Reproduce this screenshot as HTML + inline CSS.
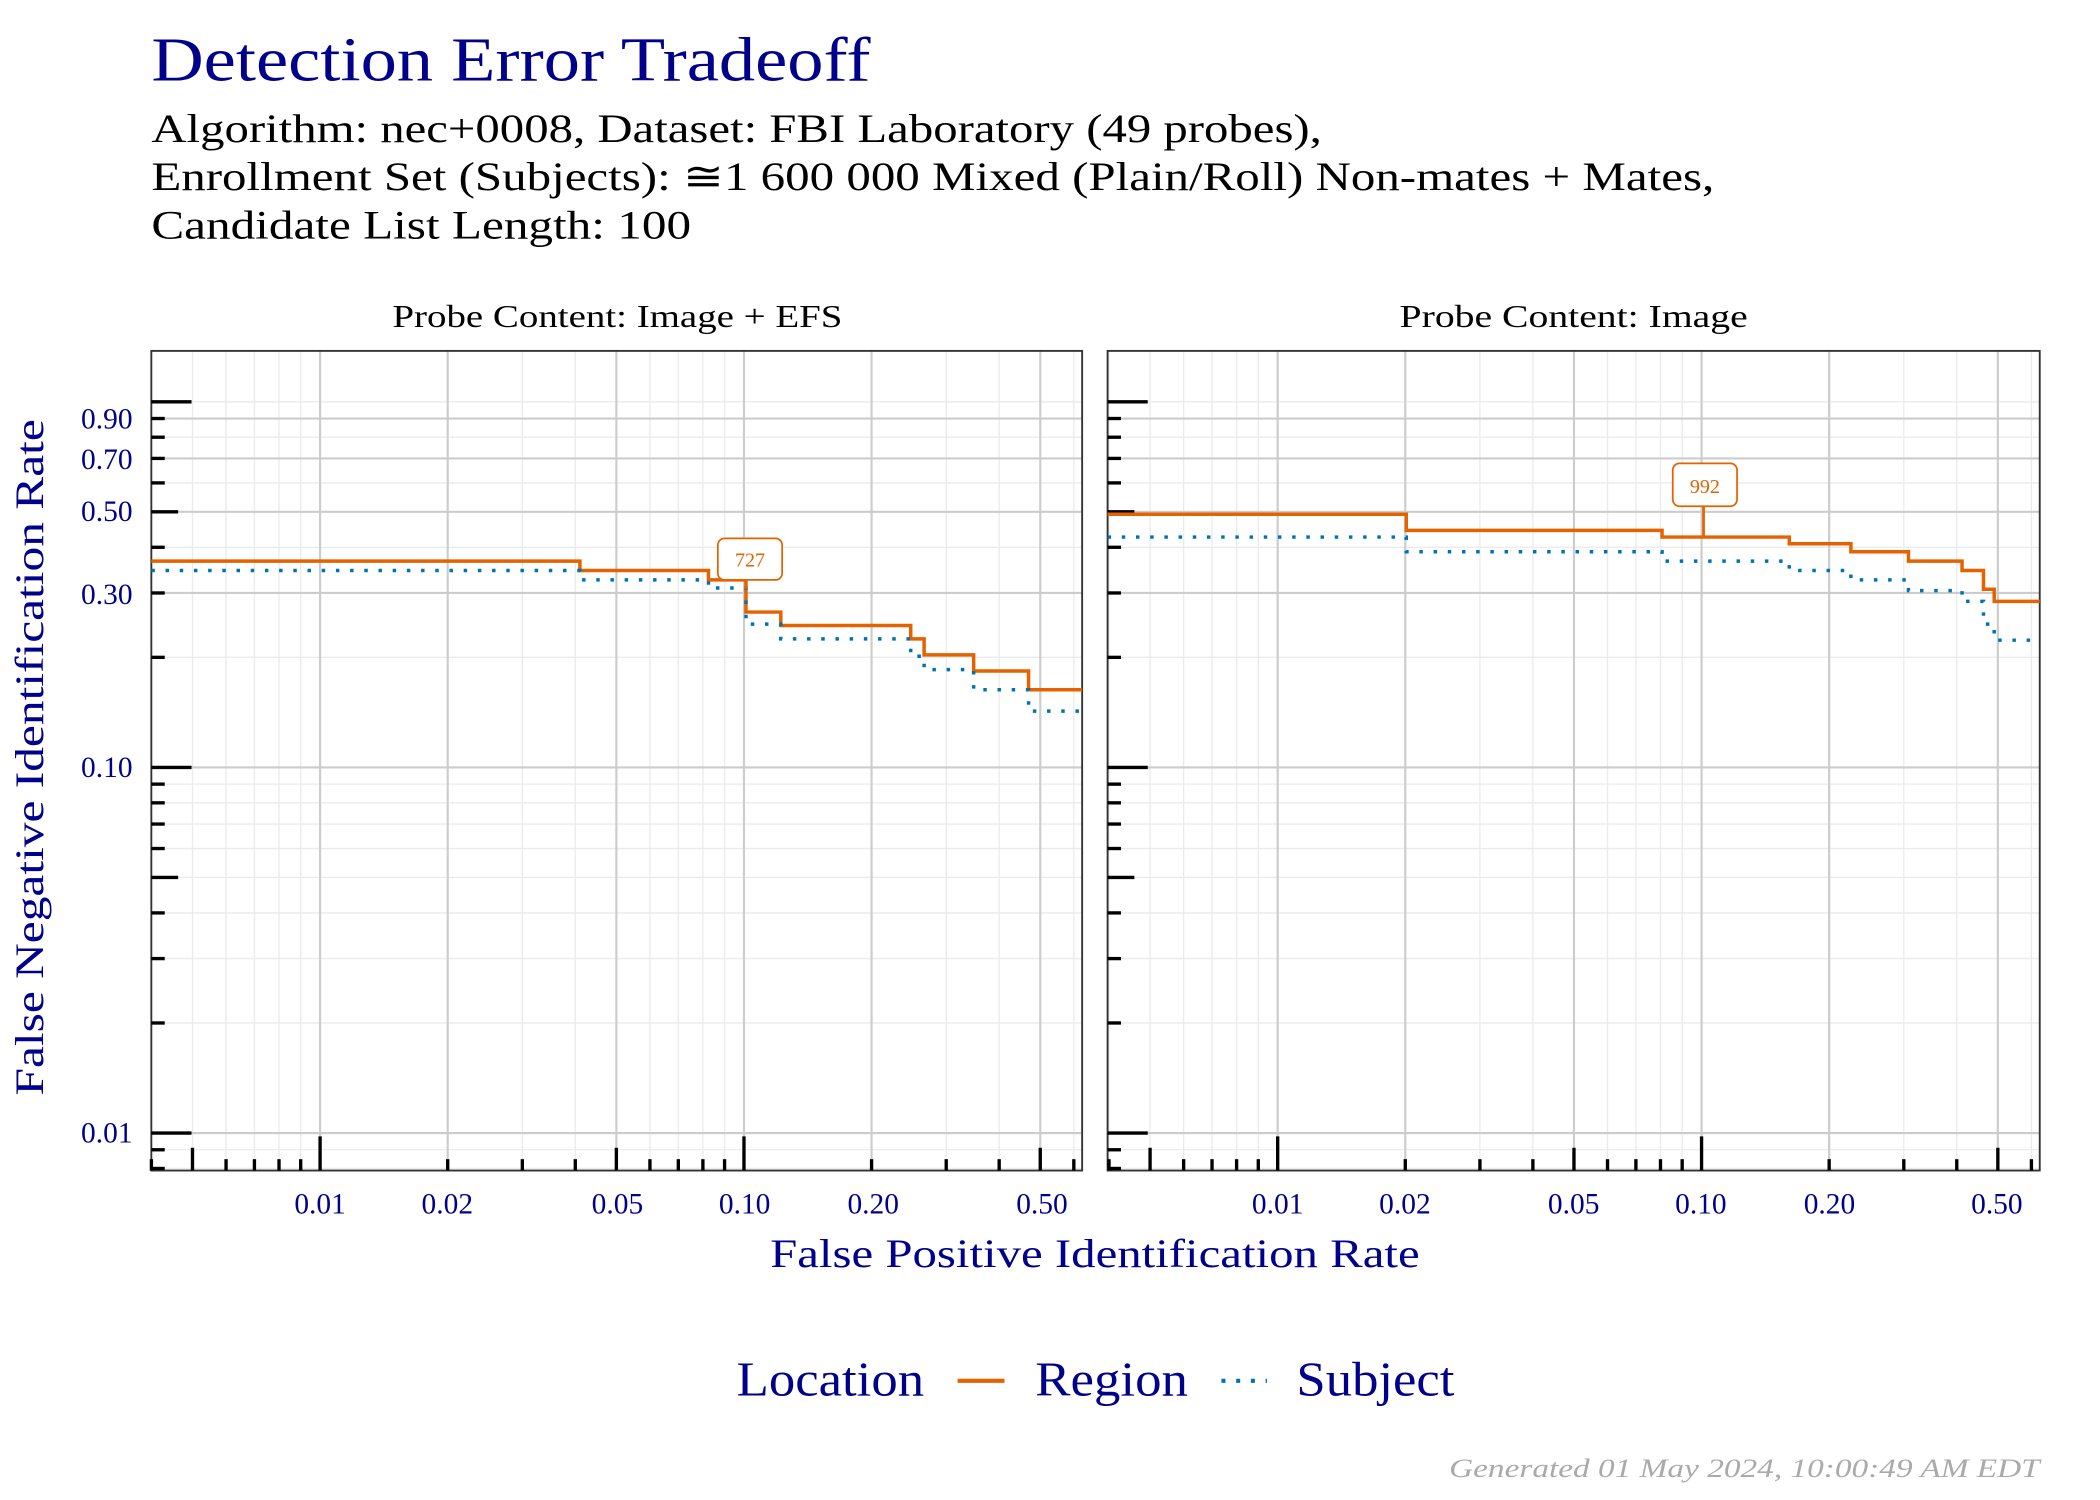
<!DOCTYPE html>
<html><head><meta charset="utf-8"><style>
html,body{margin:0;padding:0;background:#fff;}
svg{display:block;}
text{font-family:"Liberation Serif",serif;}
</style></head><body>
<svg id="s" width="2100" height="1500" viewBox="0 0 1568 1120" xmlns="http://www.w3.org/2000/svg">
<rect width="1568" height="1120" fill="#fff"/>
<g id="grid"></g>
<g fill="#00008B">
<text x="113" y="60" font-size="47" textLength="537" lengthAdjust="spacingAndGlyphs">Detection Error Tradeoff</text>
<text x="113" y="106" font-size="30" fill="#000" textLength="874" lengthAdjust="spacingAndGlyphs">Algorithm: nec+0008, Dataset: FBI Laboratory (49 probes),</text>
<text x="113" y="142" font-size="30" fill="#000" textLength="1167" lengthAdjust="spacingAndGlyphs">Enrollment Set (Subjects): ≅1 600 000 Mixed (Plain/Roll) Non-mates + Mates,</text>
<text x="113" y="178" font-size="30" fill="#000" textLength="403" lengthAdjust="spacingAndGlyphs">Candidate List Length: 100</text>
</g>
<text x="293" y="244" font-size="24" textLength="336" lengthAdjust="spacingAndGlyphs">Probe Content: Image + EFS</text>
<text x="1045" y="244" font-size="24" textLength="260" lengthAdjust="spacingAndGlyphs">Probe Content: Image</text>
<g font-size="22" fill="#00008B" text-anchor="end">
<text x="99" y="320">0.90</text><text x="99" y="350">0.70</text><text x="99" y="389">0.50</text>
<text x="99" y="451">0.30</text><text x="99" y="580">0.10</text><text x="99" y="853">0.01</text>
</g>
<g font-size="22" fill="#00008B" text-anchor="middle">
<text x="239" y="906">0.01</text><text x="334" y="906">0.02</text><text x="461" y="906">0.05</text><text x="556" y="906">0.10</text><text x="652" y="906">0.20</text><text x="778" y="906">0.50</text>
<text x="954" y="906">0.01</text><text x="1049" y="906">0.02</text><text x="1175" y="906">0.05</text><text x="1270" y="906">0.10</text><text x="1366" y="906">0.20</text><text x="1491" y="906">0.50</text>
</g>
<text x="575" y="946" font-size="30" fill="#00008B" textLength="485" lengthAdjust="spacingAndGlyphs">False Positive Identification Rate</text>
<text transform="translate(32,818) rotate(-90)" font-size="30" fill="#00008B" textLength="505" lengthAdjust="spacingAndGlyphs">False Negative Identification Rate</text>
<g id="data"></g>
<g>
<rect x="536" y="402" width="48" height="31" rx="5" fill="#fff" stroke="#E66100" stroke-width="1.3"/>
<text x="560" y="423" font-size="15" fill="#E66100" text-anchor="middle">727</text>
<rect x="1249" y="346" width="48" height="32" rx="5" fill="#fff" stroke="#E66100" stroke-width="1.3"/>
<text x="1273" y="368" font-size="15" fill="#E66100" text-anchor="middle">992</text>
</g>
<text x="550" y="1042" font-size="36" fill="#00008B" textLength="140" lengthAdjust="spacingAndGlyphs">Location</text>
<line x1="715" y1="1031" x2="750" y2="1031" stroke="#E66100" stroke-width="3"/>
<text x="773" y="1042" font-size="36" fill="#00008B" textLength="114" lengthAdjust="spacingAndGlyphs">Region</text>
<line x1="912" y1="1031" x2="946" y2="1031" stroke="#0072B2" stroke-width="3" stroke-dasharray="3 8"/>
<text x="968" y="1042" font-size="36" fill="#00008B" textLength="118" lengthAdjust="spacingAndGlyphs">Subject</text>
<text x="1082" y="1103" font-size="20" fill="#aaa" font-style="italic" textLength="441" lengthAdjust="spacingAndGlyphs">Generated 01 May 2024, 10:00:49 AM EDT</text>
</svg>
<script>
var NS="http://www.w3.org/2000/svg";
function el(p,t,a){var e=document.createElementNS(NS,t);for(var k in a)e.setAttribute(k,a[k]);p.appendChild(e);return e;}
var g=document.getElementById("grid"),d=document.getElementById("data");
var T=262,B=874,D=273;
function Y(v){return 573-(Math.log10(v)+1)*D;}
var panels=[{L:113,R:808,x01:239},{L:827,R:1523,x01:954}];
panels.forEach(function(p){
 function X(v){return p.x01+(Math.log10(v)+2)*316.5;}
 [0.001,0.01,0.1,1].forEach(function(dec){for(var n=1;n<10;n++){var v=dec*n;
  var x=X(v);if(x>p.L&&x<p.R)el(g,"line",{x1:x,x2:x,y1:T,y2:B,stroke:"#ebebeb","stroke-width":1});
  var y=Y(v);if(y>T&&y<B)el(g,"line",{x1:p.L,x2:p.R,y1:y,y2:y,stroke:"#ebebeb","stroke-width":1});}});
 [0.01,0.02,0.05,0.1,0.2,0.5].forEach(function(v){var x=X(v);el(g,"line",{x1:x,x2:x,y1:T,y2:B,stroke:"#cccccc","stroke-width":1.6});});
 [0.01,0.1,0.3,0.5,0.7,0.9].forEach(function(v){var y=Y(v);el(g,"line",{x1:p.L,x2:p.R,y1:y,y2:y,stroke:"#cccccc","stroke-width":1.6});});
 el(g,"rect",{x:p.L,y:T,width:p.R-p.L,height:B-T,fill:"none",stroke:"#333","stroke-width":1.4});
 [0.001,0.01,0.1,1].forEach(function(dec){for(var n=1;n<10;n++){var v=dec*n;var len=n==1?30:(n==5?20:10);
  var y=Y(v);if(y>T&&y<B)el(g,"line",{x1:p.L,x2:p.L+len,y1:y,y2:y,stroke:"#000","stroke-width":2.5});
  var x=X(v);if(x>p.L&&x<p.R)el(g,"line",{x1:x,x2:x,y1:B,y2:B-len*0.85,stroke:"#000","stroke-width":2.5});}});
});
function step(pts,L,col,dash){var s="M"+L+","+pts[0][1];pts.forEach(function(q,i){if(i>0)s+=" V"+q[1];s+=" H"+q[0];});
 var a={d:s,fill:"none",stroke:col,"stroke-width":2.6};if(dash)a["stroke-dasharray"]="2.6 8";el(d,"path",a);}
step([[433,419],[529,426],[557,433],[583,457],[680,467],[690,477],[727,489],[768,501],[808,515]],113,"#E66100");
step([[433,426],[529,433],[557,439],[583,466],[680,477],[690,490],[727,500],[768,515],[808,531]],113,"#0072B2",1);
step([[1050,384],[1241,396],[1336,401],[1382,406],[1425,412],[1465,419],[1481,426],[1489,440],[1523,449]],827,"#E66100");
step([[1050,401],[1241,412],[1336,419],[1382,426],[1425,433],[1465,441],[1481,449],[1489,466],[1523,478]],827,"#0072B2",1);
el(d,"line",{x1:557,y1:433,x2:557,y2:440,stroke:"#E66100","stroke-width":2});
el(d,"line",{x1:1272,y1:378,x2:1272,y2:401,stroke:"#E66100","stroke-width":2});
</script>
</body></html>
